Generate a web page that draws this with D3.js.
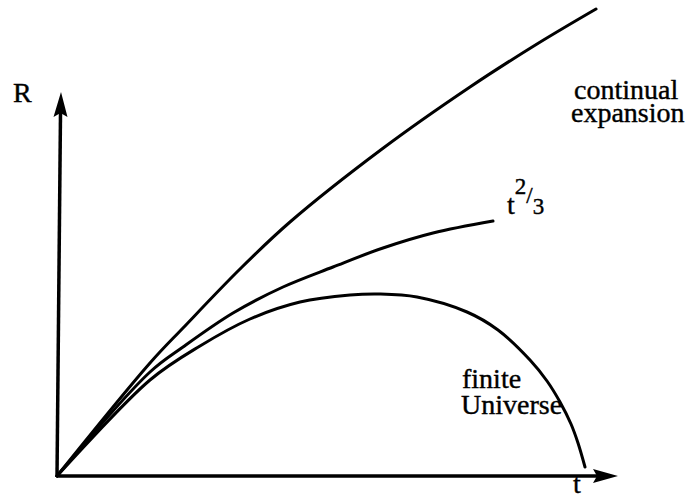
<!DOCTYPE html>
<html>
<head>
  <meta charset="utf8">
  <title>R versus t</title>
  <style>
    * { margin: 0; padding: 0; }
    body { background: #fff; }
    text { font-family: 'Liberation Serif', 'Times New Roman', serif; fill: #000; stroke: #000; stroke-width: 0.4px; }
  </style>
</head>
<body>
  <script src="https://cdn.jsdelivr.net/npm/d3@7"></script>
  <script>
    var w = 693
    var h = 498

    // curves (t along, R up, arbitrary units)
    var contT = [0, 93, 126, 183, 233, 325, 413, 480, 539]
    var contR = [0, 113, 148, 207, 254, 327, 389, 432, 467]

    var powT = [0, 93, 126, 176, 226, 276, 326, 376, 436]
    var powR = [0, 104, 129, 163, 189, 209, 228, 243, 255]

    var finT = [0, 93, 143, 193, 243, 293, 323, 360, 410, 441, 473, 490, 503, 514, 521, 528]
    var finR = [0, 96, 130, 157, 174, 181, 182, 179, 164, 146, 116, 95, 74, 52, 33, 9]

    // axes: end of x shaft / tip, end of y shaft / tip
    var axisT = [0, 540, 561]
    var axisR = [0, 363, 384]

    var xScale = d3.scaleLinear().domain([0, 560]).range([57, 617])
    var yScale = d3.scaleLinear().domain([0, 470]).range([476, 6])

    var svg = d3.select('body').append('svg').attr('width', w).attr('height', h)

    var line = d3.line()
      .x(d => xScale(d[0]))
      .y(d => yScale(d[1]))
      .curve(d3.curveCatmullRom.alpha(0.5))

    var curves = [d3.zip(contT, contR), d3.zip(powT, powR), d3.zip(finT, finR)]

    svg.selectAll('path.curve')
      .data(curves)
      .enter()
      .append('path')
      .attr('class', 'curve')
      .attr('d', line)
      .attr('fill', 'none')
      .attr('stroke', '#000')
      .attr('stroke-width', 3)
      .attr('stroke-linecap', 'round')

    // x axis
    svg.append('line')
      .attr('x1', xScale(axisT[0])).attr('y1', yScale(0))
      .attr('x2', xScale(axisT[1])).attr('y2', yScale(0))
      .attr('stroke', '#000').attr('stroke-width', 3.5)
    svg.append('path')
      .attr('d', 'M' + xScale(axisT[2]) + ',' + yScale(0) +
        'L' + xScale(axisT[1] - 4) + ',' + (yScale(0) - 7) +
        'L' + xScale(axisT[1]) + ',' + yScale(0) +
        'L' + xScale(axisT[1] - 4) + ',' + (yScale(0) + 7) + 'Z')
      .attr('fill', '#000')

    // y axis (slightly leaning, as drawn)
    svg.append('line')
      .attr('x1', xScale(0)).attr('y1', yScale(axisR[0]) + 1)
      .attr('x2', xScale(3.5)).attr('y2', yScale(axisR[1]))
      .attr('stroke', '#000').attr('stroke-width', 3.5)
    svg.append('path')
      .attr('d', 'M' + xScale(4) + ',' + yScale(axisR[2]) +
        'L' + (xScale(3.5) - 7) + ',' + yScale(axisR[1] - 4) +
        'L' + xScale(3.5) + ',' + yScale(axisR[1]) +
        'L' + (xScale(3.5) + 7) + ',' + yScale(axisR[1] - 4) + 'Z')
      .attr('fill', '#000')

    // labels
    var labels = [
      { text: 'R', x: 13, y: 102 },
      { text: 't', x: 573, y: 493 },
      { text: 'continual', x: 574, y: 99 },
      { text: 'expansion', x: 571, y: 122 },
      { text: 'finite', x: 462, y: 388 },
      { text: 'Universe', x: 461, y: 414 }
    ]

    svg.selectAll('text.lab')
      .data(labels)
      .enter()
      .append('text')
      .attr('class', 'lab')
      .attr('x', d => d.x)
      .attr('y', d => d.y)
      .attr('font-size', '28px')
      .text(d => d.text)

    var pw = svg.append('text')
      .attr('x', 507)
      .attr('y', 214)
      .attr('font-size', '28px')
    pw.append('tspan').text('t')
    pw.append('tspan').attr('font-size', '23px').attr('dy', -20).text('2')
    pw.append('tspan').attr('font-size', '23px').attr('dy', 9).text('/')
    pw.append('tspan').attr('font-size', '23px').attr('dy', 11).text('3')
  </script>
</body>
</html>
